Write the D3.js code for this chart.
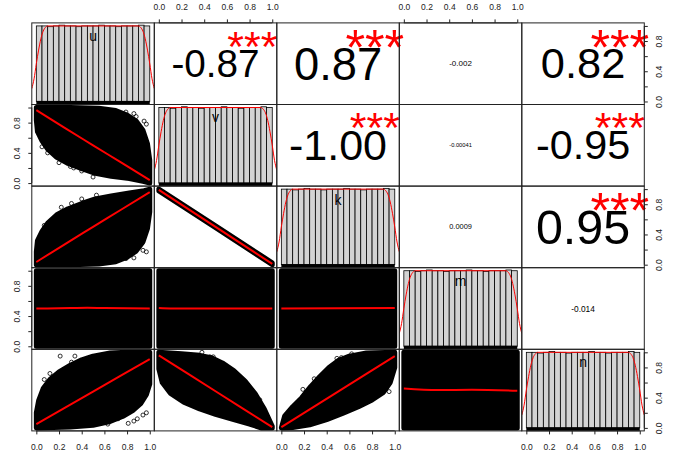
<!DOCTYPE html>
<html>
<head>
<meta charset="utf-8">
<script src="https://cdn.jsdelivr.net/npm/d3@7"></script>
<style>
  body { margin: 0; background: #fff; }
  svg { display: block; }
</style>
</head>
<body>
<div id="chart"></div>
<script>
// ---------- DATA ----------
const varNames = ["u", "v", "k", "m", "n"];

// upper triangle: [row, col] pairs, printed r, stars
const corrPairs  = [[0,1],[0,2],[0,3],[0,4],[1,2],[1,3],[1,4],[2,3],[2,4],[3,4]];
const corrValues = [-0.87, 0.87, -0.002, 0.82, -1.00, -0.00041, -0.95, 0.0009, 0.95, -0.014];
const corrLabels = ["-0.87", "0.87", "-0.002", "0.82", "-1.00", "-0.00041", "-0.95", "0.0009", "0.95", "-0.014"];
const corrStars  = ["***", "***", "", "***", "***", "", "***", "", "***", ""];

// histogram (same for all five uniform variables)
const histBinStart = [0, 0.05, 0.1, 0.15, 0.2, 0.25, 0.3, 0.35, 0.4, 0.45,
                      0.5, 0.55, 0.6, 0.65, 0.7, 0.75, 0.8, 0.85, 0.9, 0.95];
const histHeights  = [1.0, 1.0, 0.99, 1.0, 1.01, 1.0, 1.0, 0.99, 1.0, 1.0,
                      1.0, 1.01, 1.0, 1.0, 0.99, 1.0, 1.0, 1.0, 1.01, 1.0];
// kernel density line drawn over each histogram
const densityX = [-0.04, -0.02, 0, 0.02, 0.04, 0.06, 0.08, 0.1, 0.9, 0.92, 0.94, 0.96, 0.98, 1.0, 1.02, 1.04];
const densityY = [0.17, 0.3, 0.5, 0.68, 0.83, 0.93, 0.98, 1.0, 1.0, 0.98, 0.93, 0.83, 0.68, 0.5, 0.3, 0.17];

const axisTicks = [0, 0.2, 0.4, 0.6, 0.8, 1.0];
const axisVertLabels = [0, 0.4, 0.8];

// scatter clouds: outline of the dense point mass, loess line, loose points
const cloud_v_u = [[0,1],[0.3,1],[0.55,0.99],[0.7,0.96],[0.8,0.9],[0.88,0.82],[0.94,0.7],[0.98,0.52],[1,0.3],[1,0],
                   [0.95,0.02],[0.82,0.06],[0.66,0.09],[0.52,0.13],[0.4,0.19],[0.28,0.26],[0.18,0.34],[0.1,0.45],[0.05,0.56],[0.01,0.68],[0,0.83]];
const loess_v_u = [[0,0.965],[0.25,0.73],[0.5,0.5],[0.75,0.27],[1,0.04]];
const loose_v_u = [[0.05,0.48],[0.1,0.4],[0.2,0.27],[0.3,0.22],[0.4,0.16],[0.5,0.08],[0.33,0.2],
                   [0.79,0.94],[0.86,0.92],[0.88,0.88],[0.95,0.82],[0.97,0.78],[0.65,0.96]];

const cloud_k_u = [[0,0],[0,0.17],[0.01,0.32],[0.05,0.44],[0.1,0.55],[0.18,0.66],[0.28,0.74],[0.4,0.81],[0.52,0.87],[0.66,0.91],[0.82,0.95],[0.95,0.98],[1,1],
                   [1,0.7],[0.98,0.48],[0.94,0.3],[0.88,0.18],[0.8,0.1],[0.7,0.04],[0.55,0.01],[0.3,0]];
const loess_k_u = [[0,0.035],[0.25,0.27],[0.5,0.5],[0.75,0.73],[1,0.96]];
const loose_k_u = [[0.07,0.52],[0.12,0.56],[0.22,0.76],[0.31,0.81],[0.4,0.87],[0.53,0.92],
                   [0.79,0.08],[0.86,0.09],[0.94,0.19],[0.97,0.17],[0.88,0.26],[0.7,0.11]];

const cloud_k_v = [[0,1],[0.5,0.515],[1,0.025],[1,0],[0.5,0.49],[0,0.975]];
const loess_k_v = [[0,0.99],[1,0.01]];
const loose_k_v = [];

const cloud_m_u = [[0,0],[1,0],[1,1],[0,1]];
const loess_m_u = [[0,0.5],[0.3,0.505],[0.45,0.51],[0.6,0.505],[1,0.5]];
const cloud_m_v = [[0,0],[1,0],[1,1],[0,1]];
const loess_m_v = [[0,0.505],[0.1,0.5],[1,0.5]];
const cloud_m_k = [[0,0],[1,0],[1,1],[0,1]];
const loess_m_k = [[0,0.5],[1,0.505]];

const cloud_n_u = [[0,0],[0,0.2],[0.02,0.36],[0.06,0.52],[0.12,0.64],[0.2,0.74],[0.3,0.83],[0.4,0.9],[0.5,0.95],[0.65,0.99],[0.8,1],[1,1],
                   [1,0.58],[0.97,0.44],[0.92,0.32],[0.85,0.23],[0.76,0.15],[0.64,0.08],[0.5,0.035],[0.3,0.01]];
const loess_n_u = [[0,0.05],[0.5,0.48],[1,0.91]];
const loose_n_u = [[0.21,0.95],[0.07,0.64],[0.12,0.72],[0.14,0.65],[0.31,0.87],[0.34,0.95],
                   [0.81,0.06],[0.86,0.09],[0.89,0.12],[0.94,0.17],[0.97,0.2],[0.72,0.12],[0.63,0.05]];

const cloud_n_v = [[0,1],[0.2,0.98],[0.36,0.96],[0.46,0.93],[0.56,0.86],[0.66,0.76],[0.76,0.62],[0.85,0.45],[0.93,0.25],[1,0.02],[1,0],
                   [0.9,0],[0.8,0.05],[0.66,0.11],[0.5,0.18],[0.36,0.25],[0.22,0.34],[0.1,0.46],[0.03,0.6],[0,0.78]];
const loess_n_v = [[0,0.96],[0.5,0.485],[1,0.01]];
const loose_n_v = [[0.38,1.0],[0.45,0.94],[0.48,0.94],[0.69,0.65],[0.77,0.52],[0.8,0.5],[0.89,0.37],
                   [0.03,0.65],[0.1,0.52],[0.16,0.52],[0.22,0.41],[0.29,0.34],[0.36,0.3],[0.52,0.21]];

const cloud_n_k = [[0,0],[0.03,0.16],[0.1,0.28],[0.18,0.4],[0.26,0.55],[0.34,0.68],[0.42,0.8],[0.5,0.89],[0.6,0.95],[0.75,0.99],[1,1],
                   [1,0.8],[0.96,0.6],[0.9,0.47],[0.8,0.37],[0.68,0.28],[0.54,0.19],[0.4,0.11],[0.25,0.04],[0.1,0.005]];
const loess_n_k = [[0,0.01],[0.5,0.48],[1,0.95]];
const loose_n_k = [[0.49,0.92],[0.53,0.93],[0.62,0.98],[0.29,0.65],[0.19,0.51],[0.12,0.28],
                   [0.91,0.5],[0.95,0.48],[0.87,0.52],[0.73,0.34],[0.65,0.28],[0.37,0.11]];

const cloud_n_m = [[0,0],[1,0],[1,1],[0,1]];
const loess_n_m = [[0,0.52],[0.3,0.5],[0.6,0.505],[1,0.49]];

// lower-triangle panels: [row, col, cloud, loess, loose points]
const scatterPanels = [
    [1, 0, cloud_v_u, loess_v_u, loose_v_u],
    [2, 0, cloud_k_u, loess_k_u, loose_k_u],
    [2, 1, cloud_k_v, loess_k_v, loose_k_v],
    [3, 0, cloud_m_u, loess_m_u, []],
    [3, 1, cloud_m_v, loess_m_v, []],
    [3, 2, cloud_m_k, loess_m_k, []],
    [4, 0, cloud_n_u, loess_n_u, loose_n_u],
    [4, 1, cloud_n_v, loess_n_v, loose_n_v],
    [4, 2, cloud_n_k, loess_n_k, loose_n_k],
    [4, 3, cloud_n_m, loess_n_m, []]
];

// ---------- LAYOUT ----------
const width = 692, height = 456;
const gridLeft = 31.8, gridTop = 22.9;
const cellW = 122.5, cellH = 81.6;
const gridRight = gridLeft + 5 * cellW;
const gridBottom = gridTop + 5 * cellH;
const fontFam = '"Liberation Sans", Arial, Helvetica, sans-serif';

const svg = d3.select("#chart").append("svg")
    .attr("width", width)
    .attr("height", height)
    .style("font-family", fontFam);

// canvas for measuring glyph boxes (R centers text on the ink box)
const ctx = document.createElement("canvas").getContext("2d");
const measure = (txt, size) => {
    ctx.font = `${size}px ${fontFam}`;
    return ctx.measureText(txt);
};

// put a string with its ink box centred on (cx, cy)
const centredText = (g, txt, cx, cy, size, color) => {
    const m = measure(txt, size);
    const base = cy + (m.actualBoundingBoxAscent - m.actualBoundingBoxDescent) / 2;
    g.append("text")
        .attr("x", cx)
        .attr("y", base)
        .attr("text-anchor", "middle")
        .attr("fill", color)
        .style("font-size", size + "px")
        .text(txt);
};

const cellX = c => gridLeft + c * cellW;
const cellY = r => gridTop + r * cellH;

// data scales per cell (R pads the range by 4% each side)
const xScale = c => d3.scaleLinear().domain([-0.04, 1.04]).range([cellX(c), cellX(c) + cellW]);
const yScale = r => d3.scaleLinear().domain([-0.04, 1.04]).range([cellY(r) + cellH, cellY(r)]);

const defs = svg.append("defs");
const plot = svg.append("g");

// ---------- LOWER TRIANGLE: scatter clouds ----------
scatterPanels.forEach(([r, c, cloud, loess, loose], i) => {
    const x = xScale(c), y = yScale(r);
    defs.append("clipPath").attr("id", "clip" + i)
        .append("rect")
        .attr("x", cellX(c)).attr("y", cellY(r))
        .attr("width", cellW).attr("height", cellH);

    const g = plot.append("g").attr("clip-path", `url(#clip${i})`);

    g.append("path")
        .datum(cloud)
        .attr("d", d3.line().x(d => x(d[0])).y(d => y(d[1])).curve(d3.curveLinearClosed))
        .attr("fill", "#000")
        .attr("stroke", "#000")
        .attr("stroke-width", 5)
        .attr("stroke-linejoin", "round");

    g.selectAll("circle.loose")
        .data(loose)
        .join("circle")
        .attr("class", "loose")
        .attr("cx", d => x(d[0]))
        .attr("cy", d => y(d[1]))
        .attr("r", 2)
        .attr("fill", "none")
        .attr("stroke", "#000")
        .attr("stroke-width", 0.8);

    g.append("path")
        .datum(loess)
        .attr("d", d3.line().x(d => x(d[0])).y(d => y(d[1])).curve(d3.curveMonotoneX))
        .attr("fill", "none")
        .attr("stroke", "#ff0000")
        .attr("stroke-width", 2);
});

// ---------- DIAGONAL: histograms ----------
varNames.forEach((name, i) => {
    const x = xScale(i);
    const yH = d3.scaleLinear().domain([-0.04, 1.04]).range([cellY(i) + cellH, cellY(i)]);
    defs.append("clipPath").attr("id", "hclip" + i)
        .append("rect")
        .attr("x", cellX(i)).attr("y", cellY(i))
        .attr("width", cellW).attr("height", cellH);
    const g = plot.append("g").attr("clip-path", `url(#hclip${i})`);

    g.selectAll("rect.bar")
        .data(histBinStart)
        .join("rect")
        .attr("class", "bar")
        .attr("x", d => x(d))
        .attr("y", (d, j) => yH(histHeights[j]))
        .attr("width", x(0.05) - x(0))
        .attr("height", (d, j) => yH(0) - yH(histHeights[j]))
        .attr("fill", "#d3d3d3")
        .attr("stroke", "#000")
        .attr("stroke-width", 0.8);

    // rug
    g.append("rect")
        .attr("x", x(0))
        .attr("y", cellY(i) + cellH - 3.6)
        .attr("width", x(1) - x(0))
        .attr("height", 3.6)
        .attr("fill", "#000");

    g.append("path")
        .datum(densityX.map((d, j) => [d, densityY[j]]))
        .attr("d", d3.line().x(d => x(d[0])).y(d => yH(d[1])).curve(d3.curveMonotoneX))
        .attr("fill", "none")
        .attr("stroke", "#ff0000")
        .attr("stroke-width", 1);

    centredText(plot, name, cellX(i) + cellW / 2, cellY(i) + 13.8, 14, "#000");
});

// ---------- UPPER TRIANGLE: correlations ----------
corrPairs.forEach(([r, c], i) => {
    const txt = corrLabels[i];
    const w100 = measure(txt, 100).width;
    const base = 100 * 0.8 * cellW / w100;              // cex that makes txt fill 80% of the cell
    const size = base * (Math.abs(corrValues[i]) + 0.3) / 1.3;
    centredText(plot, txt, cellX(c) + cellW * 0.5, cellY(r) + cellH * 0.5, size, "#000");
    if (corrStars[i]) {
        centredText(plot, corrStars[i], cellX(c) + cellW * 0.8, cellY(r) + cellH * 0.2, base, "#ff0000");
    }
});

// ---------- PANEL BOXES ----------
for (let r = 0; r < 5; r++) {
    for (let c = 0; c < 5; c++) {
        plot.append("rect")
            .attr("x", cellX(c)).attr("y", cellY(r))
            .attr("width", cellW).attr("height", cellH)
            .attr("fill", "none")
            .attr("stroke", "#222")
            .attr("stroke-width", 1);
    }
}

// ---------- AXES ----------
const fmt = d3.format(".1f");
const styleAxis = (g, x1, y1, x2, y2) => {
    g.select(".domain").remove();
    g.selectAll("line").attr("stroke", "#222");
    g.selectAll("text").style("font-size", "8.5px").attr("fill", "#222").style("font-family", fontFam);
    svg.append("line")
        .attr("x1", x1).attr("y1", y1).attr("x2", x2).attr("y2", y2)
        .attr("stroke", "#222");
};

// top axes: columns 2 and 4
[1, 3].forEach(c => {
    const x = xScale(c);
    const g = svg.append("g")
        .attr("transform", `translate(0,${gridTop})`)
        .call(d3.axisTop(x).tickValues(axisTicks).tickSize(3.5).tickSizeOuter(0).tickPadding(9).tickFormat(fmt));
    styleAxis(g, x(0), gridTop, x(1), gridTop);
});

// bottom axes: columns 1, 3, 5
[0, 2, 4].forEach(c => {
    const x = xScale(c);
    const g = svg.append("g")
        .attr("transform", `translate(0,${gridBottom})`)
        .call(d3.axisBottom(x).tickValues(axisTicks).tickSize(3.5).tickSizeOuter(0).tickPadding(10).tickFormat(fmt));
    styleAxis(g, x(0), gridBottom, x(1), gridBottom);
});

// left axes: rows 2 and 4 (labels rotated)
[1, 3].forEach(r => {
    const y = yScale(r);
    const g = svg.append("g")
        .attr("transform", `translate(${gridLeft},0)`)
        .call(d3.axisLeft(y).tickValues(axisTicks).tickSize(3.5).tickSizeOuter(0)
            .tickFormat(d => axisVertLabels.includes(d) ? fmt(d) : ""));
    styleAxis(g, gridLeft, y(0), gridLeft, y(1));
    g.selectAll("text")
        .attr("x", 0).attr("y", 3).attr("dy", null)
        .attr("text-anchor", "middle")
        .attr("transform", "translate(-15,0) rotate(-90)");
});

// right axes: rows 1, 3, 5
[0, 2, 4].forEach(r => {
    const y = yScale(r);
    const g = svg.append("g")
        .attr("transform", `translate(${gridRight},0)`)
        .call(d3.axisRight(y).tickValues(axisTicks).tickSize(3.5).tickSizeOuter(0)
            .tickFormat(d => axisVertLabels.includes(d) ? fmt(d) : ""));
    styleAxis(g, gridRight, y(0), gridRight, y(1));
    g.selectAll("text")
        .attr("x", 0).attr("y", 3).attr("dy", null)
        .attr("text-anchor", "middle")
        .attr("transform", "translate(15,0) rotate(-90)");
});
</script>
</body>
</html>
